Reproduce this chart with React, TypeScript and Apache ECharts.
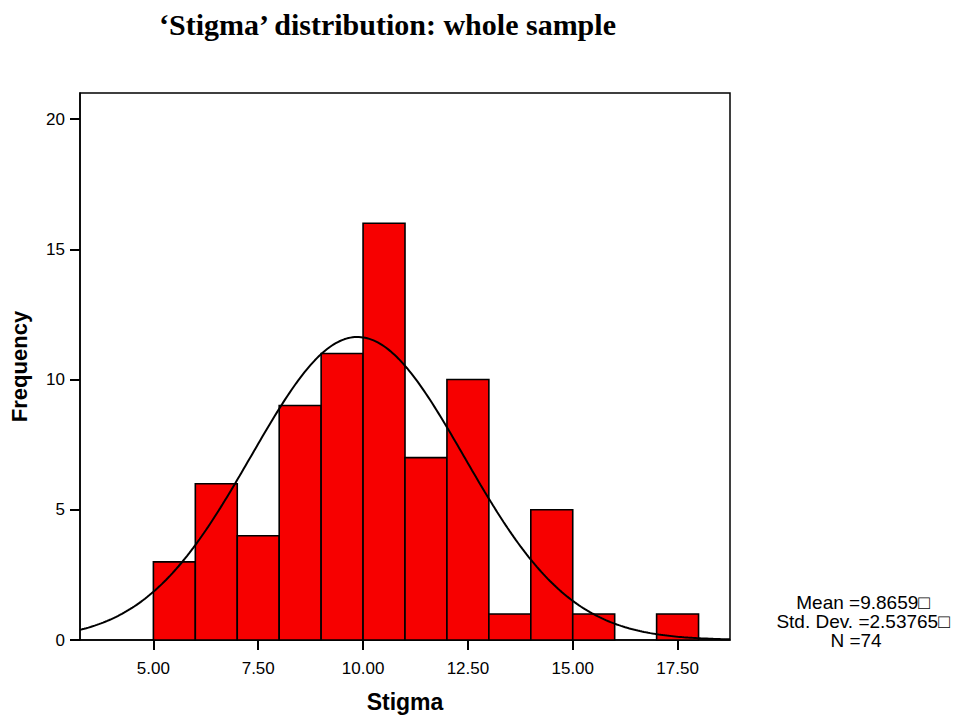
import React, { useEffect, useRef } from "react";
import * as echarts from "echarts";

const TITLE = "‘Stigma’ distribution: whole sample";
const BIN_START = [5, 6, 7, 8, 9, 10, 11, 12, 13, 14, 15, 16, 17];
const BIN_END = [6, 7, 8, 9, 10, 11, 12, 13, 14, 15, 16, 17, 18];
const COUNTS = [3, 6, 4, 9, 11, 16, 7, 10, 1, 5, 1, 0, 1];
const X_TICKS = [5, 7.5, 10, 12.5, 15, 17.5];
const Y_TICKS = [0, 5, 10, 15, 20];
const MEAN = 9.8659;
const SD = 2.53765;
const N = 74;
const BIN_WIDTH = 1;
const X_MIN = 3.25;
const X_MAX = 18.75;
const Y_MAX = 21;
const STATS = ["Mean =9.8659\u25A1", "Std. Dev. =2.53765\u25A1", "N =74"];

function normalCurve(): number[][] {
  const pts: number[][] = [];
  const steps = 310;
  for (let i = 0; i <= steps; i++) {
    const x = X_MIN + ((X_MAX - X_MIN) * i) / steps;
    const z = (x - MEAN) / SD;
    const y = (N * BIN_WIDTH * Math.exp(-0.5 * z * z)) / (SD * Math.sqrt(2 * Math.PI));
    pts.push([x, y]);
  }
  return pts;
}

export default function App() {
  const ref = useRef<HTMLDivElement>(null);
  useEffect(() => {
    document.body.style.margin = "0";
    if (!ref.current) return;
    const chart = echarts.init(ref.current, null, { renderer: "svg" });
    const barData = BIN_START.map((s, i) => [s, BIN_END[i], COUNTS[i]]).filter((d) => d[2] > 0);
    const sans = "Liberation Sans, Arial, sans-serif";
    chart.setOption({
      animation: false,
      backgroundColor: "#ffffff",
      title: {
        text: TITLE,
        left: 154,
        top: 4,
        textStyle: {
          fontFamily: "Liberation Serif, Times New Roman, serif",
          fontWeight: "bold",
          fontSize: 30,
          color: "#000",
        },
      },
      grid: {
        left: 78,
        right: 229,
        top: 93,
        bottom: 79,
        show: true,
        borderColor: "#000",
        borderWidth: 1.5,
        backgroundColor: "transparent",
      },
      xAxis: {
        type: "value",
        min: X_MIN,
        max: X_MAX,
        name: "Stigma",
        nameLocation: "middle",
        nameGap: 50,
        nameTextStyle: { fontFamily: sans, fontWeight: "bold", fontSize: 23, color: "#000" },
        axisLine: { show: true, lineStyle: { color: "#000", width: 1.5 } },
        axisTick: {
          show: true,
          inside: false,
          length: 10,
          lineStyle: { color: "#000", width: 2 },
          customValues: X_TICKS,
        },
        axisLabel: {
          show: true,
          margin: 20,
          fontFamily: sans,
          fontSize: 17,
          color: "#000",
          customValues: X_TICKS,
          formatter: (v: number) => v.toFixed(2),
        },
        splitLine: { show: false },
      },
      yAxis: {
        type: "value",
        min: 0,
        max: Y_MAX,
        name: "Frequency",
        nameLocation: "middle",
        nameGap: 50,
        nameRotate: 90,
        nameTextStyle: { fontFamily: sans, fontWeight: "bold", fontSize: 22, color: "#000" },
        axisLine: { show: true, lineStyle: { color: "#000", width: 1.5 } },
        axisTick: {
          show: true,
          inside: false,
          length: 10,
          lineStyle: { color: "#000", width: 2 },
          customValues: Y_TICKS,
        },
        axisLabel: {
          show: true,
          margin: 15,
          fontFamily: sans,
          fontSize: 17,
          color: "#000",
          customValues: Y_TICKS,
        },
        splitLine: { show: false },
      },
      series: [
        {
          type: "custom",
          data: barData,
          encode: { x: [0, 1], y: 2 },
          renderItem: (params: any, api: any) => {
            const p0 = api.coord([api.value(0), api.value(2)]);
            const p1 = api.coord([api.value(1), 0]);
            return {
              type: "rect",
              shape: { x: p0[0], y: p0[1], width: p1[0] - p0[0], height: p1[1] - p0[1] },
              style: { fill: "#f70000", stroke: "#000", lineWidth: 1.6 },
            };
          },
          z: 2,
        },
        {
          type: "line",
          data: normalCurve(),
          showSymbol: false,
          smooth: false,
          lineStyle: { color: "#000", width: 2 },
          z: 3,
        },
      ],
      graphic: STATS.map((t, i) => ({
        type: "text",
        x: i === 2 ? 856 : 863,
        y: 602 + i * 19,
        style: {
          text: t,
          fontFamily: sans,
          fontSize: 19,
          fill: "#000",
          textAlign: "center",
          textVerticalAlign: "middle",
        },
      })),
    });
    return () => chart.dispose();
  }, []);
  return <div ref={ref} style={{ width: 959, height: 719 }} />;
}
